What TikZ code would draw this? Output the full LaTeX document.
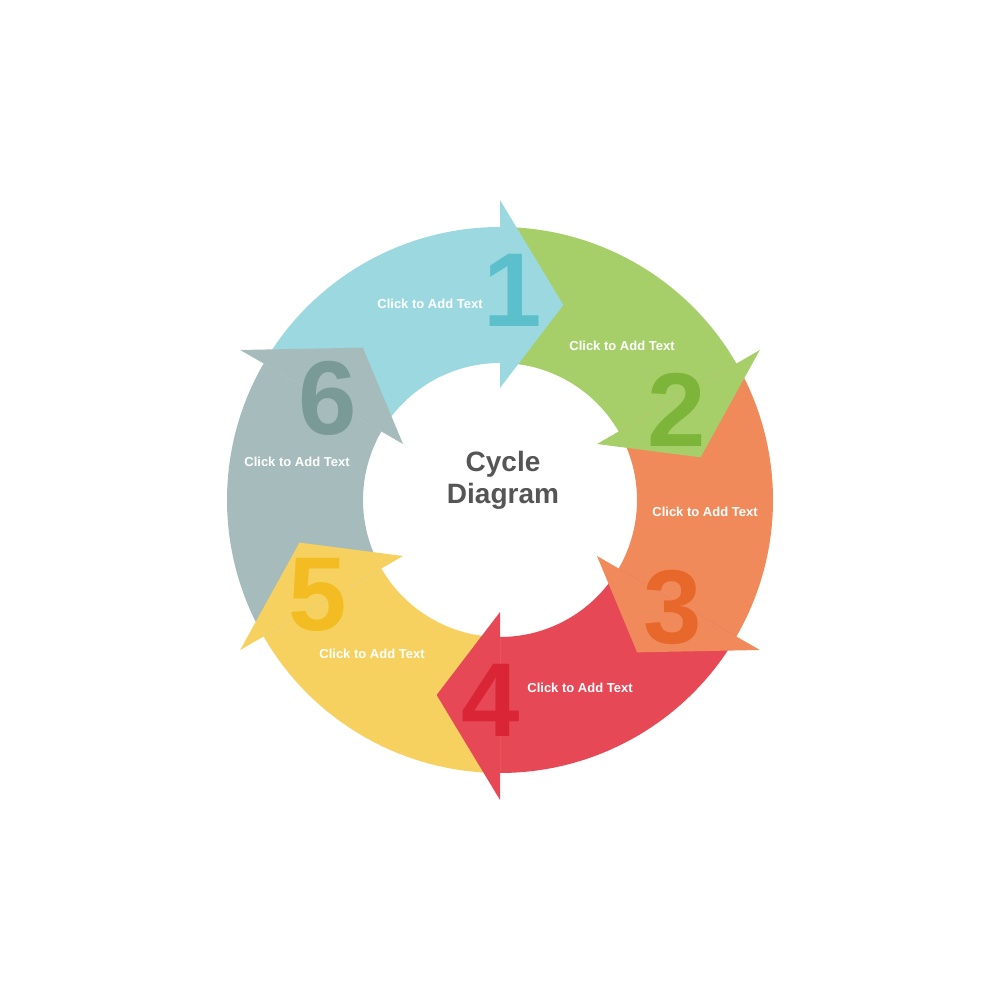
\documentclass[tikz,border=0pt]{standalone}
\usepackage{fontspec}
\setmainfont{Liberation Sans}
\definecolor{cA}{HTML}{9BD8E0}\definecolor{nA}{HTML}{5BBFCC}
\definecolor{cB}{HTML}{A6CF6A}\definecolor{nB}{HTML}{7DB53A}
\definecolor{cC}{HTML}{F08A5A}\definecolor{nC}{HTML}{E8672A}
\definecolor{cD}{HTML}{E74856}\definecolor{nD}{HTML}{D92535}
\definecolor{cE}{HTML}{F7D160}\definecolor{nE}{HTML}{F2BC22}
\definecolor{cF}{HTML}{A6BBBB}\definecolor{nF}{HTML}{7A9A98}
\definecolor{ctext}{HTML}{555555}
\tikzset{num/.style={font=\fontsize{105}{105}\selectfont\bfseries},
lbl/.style={font=\fontsize{13}{13}\selectfont\bfseries,text=white}}
\newcommand\segbody[3]{\fill[#3,shift={(500,500)}] (#1:273) arc[start angle=#1,end angle=#2,radius=273] -- (#2:137) arc[start angle=#2,end angle=#1,radius=137] -- cycle;}
\newcommand\seghead[2]{\fill[#2,shift={(500,500)}] (#1:300) -- (#1-18:205) -- (#1:112) -- cycle;}
\begin{document}
\begin{tikzpicture}[x=1pt,y=1pt]
\useasboundingbox (0,0) rectangle (1000,1000);
\segbody{150}{90}{cA}
\segbody{90}{30}{cB}
\segbody{30}{-30}{cC}
\segbody{-30}{-90}{cD}
\segbody{-90}{-150}{cE}
\segbody{-150}{-210}{cF}
\seghead{90}{cA}
\seghead{30}{cB}
\seghead{-30}{cC}
\seghead{-90}{cD}
\seghead{-150}{cE}
\seghead{150}{cF}
\node[num,text=nA] (n1) at (513,710) {1};
\node[num,text=nB] (n2) at (677,590) {2};
\node[num,text=nC] (n3) at (673,393) {3};
\node[num,text=nD] (n4) at (491,300) {4};
\node[num,text=nE] (n5) at (318,405) {5};
\node[num,text=nF] (n6) at (328,602) {6};
\node[lbl] (t1) at (430,696) {Click to Add Text};
\node[lbl] (t2) at (622,654) {Click to Add Text};
\node[lbl] (t3) at (705,488) {Click to Add Text};
\node[lbl] (t4) at (580,312) {Click to Add Text};
\node[lbl] (t5) at (372,346) {Click to Add Text};
\node[lbl] (t6) at (297,538) {Click to Add Text};
\node[font=\fontsize{28}{32}\selectfont\bfseries,text=ctext,align=center] (c) at (503,520) {Cycle\\Diagram};
\end{tikzpicture}
\end{document}
